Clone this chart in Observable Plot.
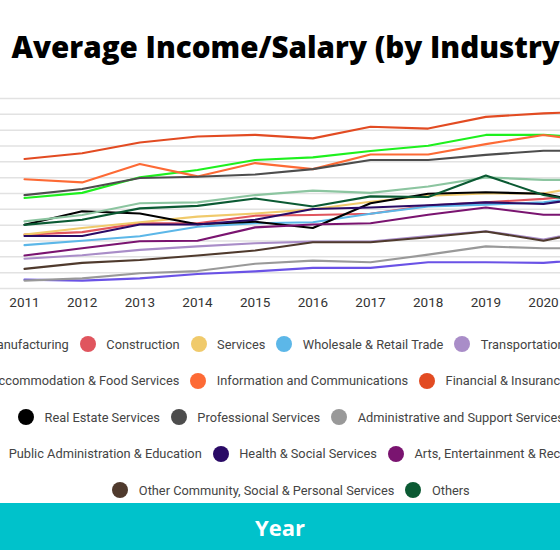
<!DOCTYPE html>
<html><head><meta charset="utf-8">
<script src="https://cdn.jsdelivr.net/npm/d3@7"></script>
<script src="https://cdn.jsdelivr.net/npm/@observablehq/plot@0.6"></script>
<style>
html,body{margin:0;padding:0;width:560px;height:550px;overflow:hidden;background:#fff;position:relative}
#title{position:absolute;left:-209px;width:1000px;top:31.5px;text-align:center;font:800 29.6px/29.6px "Open Sans";color:#000;white-space:nowrap}
#chart{position:absolute;left:-70px;top:80px;width:700px}
#chart svg{max-width:none}
#legend{position:absolute;left:-109px;width:800px;top:325.75px}
.row{display:flex;justify-content:center;align-items:center;gap:11px;height:36.5px}
.item{display:flex;align-items:center;white-space:nowrap;font:12.8px Roboto;color:#444}
.dot{width:16px;height:16px;border-radius:50%;margin-right:10.5px;flex:none}
#footer{position:absolute;left:0;top:503px;width:560px;height:47px;background:#00c2cb;color:#fff;font:700 22px "Open Sans";display:flex;align-items:center;justify-content:center}
</style></head>
<body>
<div id="title">Average Income/Salary (by Industry)</div>
<div id="chart"></div>
<div id="legend"></div>
<div id="footer">Year</div>
<script>
const years = [2011, 2012, 2013, 2014, 2015, 2016, 2017, 2018, 2019, 2020, 2021];
const yTicks = [2000, 2500, 3000, 3500, 4000, 4500, 5000, 5500, 6000, 6500, 7000, 7500, 8000];

const industries = [
  "Manufacturing", "Construction", "Services", "Wholesale & Retail Trade", "Transportation & Storage",
  "Accommodation & Food Services", "Information and Communications", "Financial & Insurance Services",
  "Real Estate Services", "Professional Services", "Administrative and Support Services",
  "Public Administration & Education", "Health & Social Services", "Arts, Entertainment & Recreation",
  "Other Community, Social & Personal Services", "Others"
];
const colors = [
  "#1ef01e", "#e0555e", "#f0ca6b", "#5cb7e8", "#a98dc8",
  "#6a52e6", "#fd6a35", "#e24b22",
  "#000000", "#4d4d4d", "#999999",
  "#8cc5a0", "#2a0a66", "#7a1470",
  "#4f3a2d", "#0b5a33"
];
const legendRows = [[0, 1, 2, 3, 4], [5, 6, 7], [8, 9, 10], [11, 12, 13], [14, 15]];

const manufacturing   = [4860, 5020, 5510, 5740, 6060, 6140, 6340, 6510, 6850, 6850, 6760];
const construction    = [3700, 3780, 4060, 4060, 4300, 4320, 4360, 4620, 4720, 4830, 5000];
const services        = [3700, 3910, 4090, 4270, 4370, 4500, 4740, 4930, 5000, 5000, 5310];
const wholesale       = [3370, 3510, 3650, 3950, 4060, 4090, 4360, 4590, 4650, 4720, 4960];
const transportation  = [2940, 3050, 3220, 3330, 3430, 3480, 3480, 3660, 3810, 3550, 3890];
const accommodation   = [2280, 2250, 2320, 2460, 2540, 2650, 2650, 2830, 2830, 2810, 2950];
const infoComm        = [5450, 5350, 5930, 5540, 5960, 5770, 6230, 6230, 6560, 6850, 6600];
const financial       = [6090, 6270, 6610, 6800, 6850, 6740, 7110, 7050, 7420, 7530, 7600];
const realEstate      = [4010, 4440, 4370, 4030, 4110, 3910, 4690, 4990, 5040, 4990, 4620];
const professional    = [4950, 5140, 5490, 5530, 5600, 5770, 6060, 6060, 6220, 6350, 6350];
const adminSupport    = [2250, 2320, 2480, 2550, 2780, 2880, 2830, 3070, 3330, 3270, 3270];
const publicAdmin     = [4120, 4320, 4690, 4720, 4950, 5090, 5020, 5220, 5510, 5430, 5430];
const health          = [3660, 3660, 4020, 4020, 4170, 4510, 4560, 4630, 4720, 4670, 4930];
const arts            = [3040, 3270, 3490, 3510, 3930, 4020, 4060, 4330, 4560, 4330, 4330];
const otherCommunity  = [2620, 2810, 2900, 3040, 3200, 3460, 3460, 3620, 3800, 3510, 3870];
const others          = [4010, 4170, 4530, 4610, 4840, 4590, 4910, 4890, 5570, 4950, 4650];

const seriesValues = [manufacturing, construction, services, wholesale, transportation,
  accommodation, infoComm, financial, realEstate, professional, adminSupport,
  publicAdmin, health, arts, otherCommunity, others];

const table = [];
industries.forEach((name, i) => {
  years.forEach((yr, j) => table.push({industry: name, year: yr, value: seriesValues[i][j]}));
});

const chart = Plot.plot({
  width: 700,
  height: 248,
  marginTop: 18,
  marginBottom: 40,
  marginLeft: 50,
  marginRight: 20,
  style: {fontFamily: "Roboto", background: "transparent", maxWidth: "none"},
  x: {domain: [2010.237, 2021.162], axis: null},
  y: {domain: [2000, 8000], axis: null},
  color: {domain: industries, range: colors},
  marks: [
    Plot.ruleY(yTicks, {stroke: "#e2e2e2", strokeWidth: 1.5}),
    Plot.axisX({ticks: years, tickFormat: d => String(d), tickSize: 0, tickPadding: 9, fontSize: 13.5, fill: "#333", fontFamily: "Roboto", label: null}),
    Plot.line(table, {x: "year", y: "value", z: "industry", stroke: "industry", strokeWidth: 2.1})
  ]
});
document.getElementById("chart").appendChild(chart);

const legend = document.getElementById("legend");
legendRows.forEach(row => {
  const r = document.createElement("div");
  r.className = "row";
  row.forEach(i => {
    const it = document.createElement("div");
    it.className = "item";
    const dot = document.createElement("span");
    dot.className = "dot";
    dot.style.background = colors[i];
    const t = document.createElement("span");
    t.textContent = industries[i];
    it.appendChild(dot);
    it.appendChild(t);
    r.appendChild(it);
  });
  legend.appendChild(r);
});
</script>
</body></html>
